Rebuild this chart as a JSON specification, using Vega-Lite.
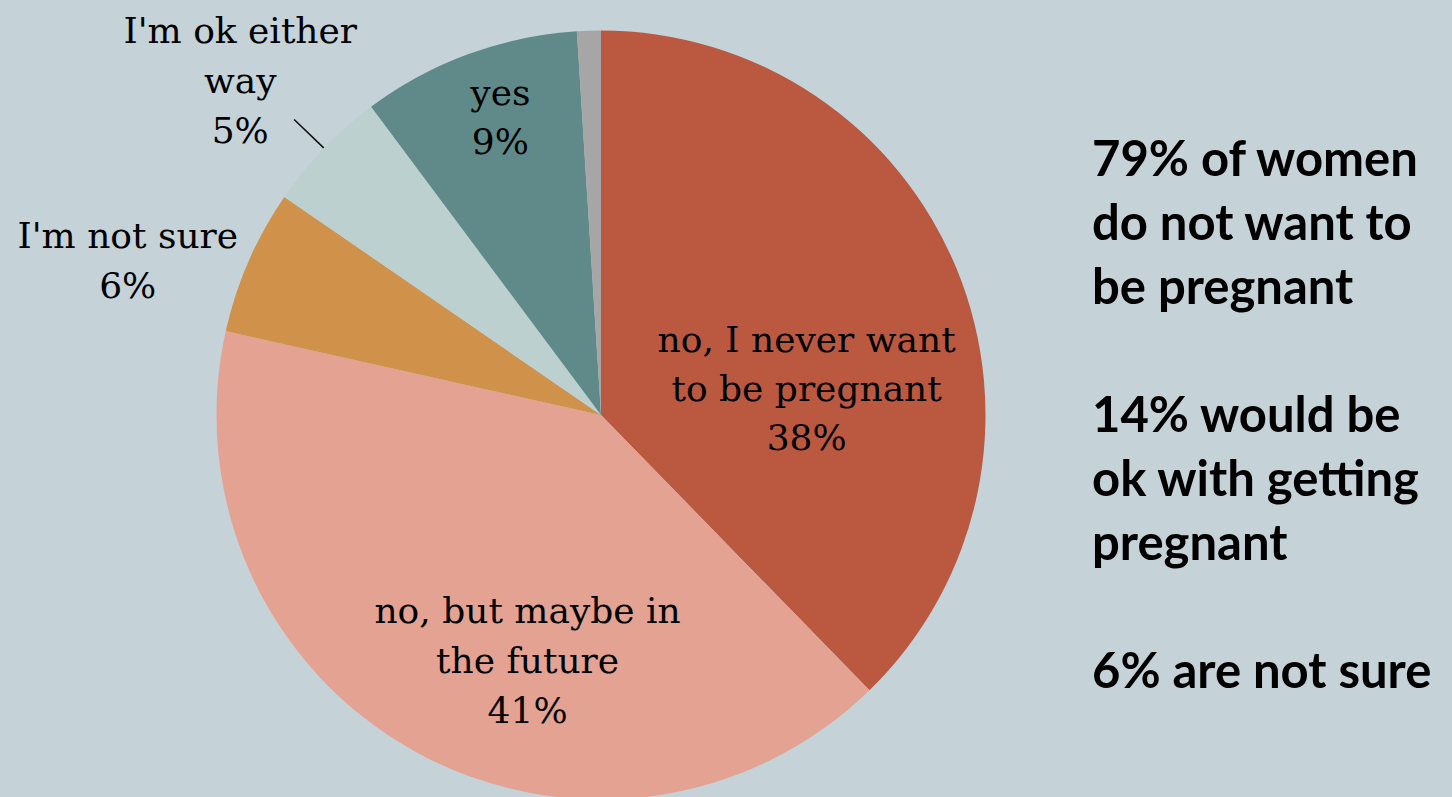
{
  "$schema": "https://vega.github.io/schema/vega-lite/v6.json",
  "width": 978,
  "height": 764,
  "autosize": {"type": "none"},
  "padding": {"left": 112, "top": 33, "right": 362, "bottom": 0},
  "background": "#C5D2D8",
  "config": {"view": {"stroke": null}},
  "datasets": {
    "answers": [
      {"idx": 1, "answer": "no, I never want to be pregnant", "value": 37.7, "label": "no, I never want\nto be pregnant\n38%"},
      {"idx": 2, "answer": "no, but maybe in the future", "value": 40.8, "label": "no, but maybe in\nthe future\n41%"},
      {"idx": 3, "answer": "I'm not sure", "value": 6.1, "label": "I'm not sure\n6%"},
      {"idx": 4, "answer": "I'm ok either way", "value": 5.2, "label": "I'm ok either\nway\n5%"},
      {"idx": 5, "answer": "yes", "value": 9.2, "label": "yes\n9%"},
      {"idx": 6, "answer": "no response", "value": 1.0, "label": ""}
    ],
    "notes": [
      {"line": 1, "note": "79% of women"},
      {"line": 2, "note": "do not want to"},
      {"line": 3, "note": "be pregnant"},
      {"line": 5, "note": "14% would be"},
      {"line": 6, "note": "ok with getting"},
      {"line": 7, "note": "pregnant"},
      {"line": 9, "note": "6% are not sure"}
    ]
  },
  "layer": [
    {
      "data": {"name": "answers"},
      "encoding": {
        "theta": {"field": "value", "type": "quantitative", "stack": true},
        "order": {"field": "idx", "type": "quantitative"}
      },
      "layer": [
        {
          "mark": {"type": "arc", "radius": 384.5},
          "encoding": {
            "color": {
              "field": "answer",
              "type": "nominal",
              "scale": {
                "domain": ["no, I never want to be pregnant", "no, but maybe in the future", "I'm not sure", "I'm ok either way", "yes", "no response"],
                "range": ["#BA5840", "#E3A292", "#D0914A", "#BCD0CF", "#608A89", "#A6A6A6"]
              },
              "legend": null
            }
          }
        },
        {
          "mark": {"type": "text", "font": "DejaVu Serif", "fontSize": 36, "lineHeight": 49, "lineBreak": "\n", "align": "center", "baseline": "middle", "radius": 222, "dy": 10, "color": "#000000"},
          "encoding": {"text": {"condition": {"test": "datum.idx === 1", "field": "label"}, "value": ""}}
        },
        {
          "mark": {"type": "text", "font": "DejaVu Serif", "fontSize": 36, "lineHeight": 50, "lineBreak": "\n", "align": "center", "baseline": "middle", "radius": 280, "dx": 63, "dy": -48, "color": "#000000"},
          "encoding": {"text": {"condition": {"test": "datum.idx === 2", "field": "label"}, "value": ""}}
        },
        {
          "mark": {"type": "text", "font": "DejaVu Serif", "fontSize": 36, "lineHeight": 50, "lineBreak": "\n", "align": "center", "baseline": "middle", "radius": 500, "dx": -15, "dy": 22, "color": "#000000"},
          "encoding": {"text": {"condition": {"test": "datum.idx === 3", "field": "label"}, "value": ""}}
        },
        {
          "mark": {"type": "text", "font": "DejaVu Serif", "fontSize": 36, "lineHeight": 50, "lineBreak": "\n", "align": "center", "baseline": "middle", "radius": 480, "dx": -15, "dy": -50, "color": "#000000"},
          "encoding": {"text": {"condition": {"test": "datum.idx === 4", "field": "label"}, "value": ""}}
        },
        {
          "mark": {"type": "text", "font": "DejaVu Serif", "fontSize": 36, "lineHeight": 49, "lineBreak": "\n", "align": "center", "baseline": "middle", "radius": 318, "dx": 9, "dy": -22, "color": "#000000"},
          "encoding": {"text": {"condition": {"test": "datum.idx === 5", "field": "label"}, "value": ""}}
        }
      ]
    },
    {
      "data": {"name": "answers"},
      "transform": [
        {"window": [{"op": "sum", "field": "value", "as": "cum"}], "sort": [{"field": "idx"}]},
        {"filter": "datum.idx === 4"}
      ],
      "mark": {"type": "arc", "radius": 426, "radius2": 385, "thetaOffset": -0.16336, "theta2Offset": -0.16336, "filled": false, "stroke": "#111111", "strokeWidth": 1.6},
      "encoding": {
        "theta": {"field": "cum", "type": "quantitative", "stack": null},
        "theta2": {"field": "cum"}
      }
    },
    {
      "data": {"name": "notes"},
      "mark": {"type": "text", "font": "Lato", "fontSize": 49, "fontWeight": "bold", "align": "left", "baseline": "alphabetic", "dx": 2, "color": "#000000"},
      "encoding": {
        "x": {"value": "width"},
        "y": {"field": "line", "type": "quantitative", "scale": {"domain": [-1.234, 10.703], "reverse": true, "nice": false, "zero": false}, "axis": null},
        "text": {"field": "note"}
      }
    }
  ]
}
